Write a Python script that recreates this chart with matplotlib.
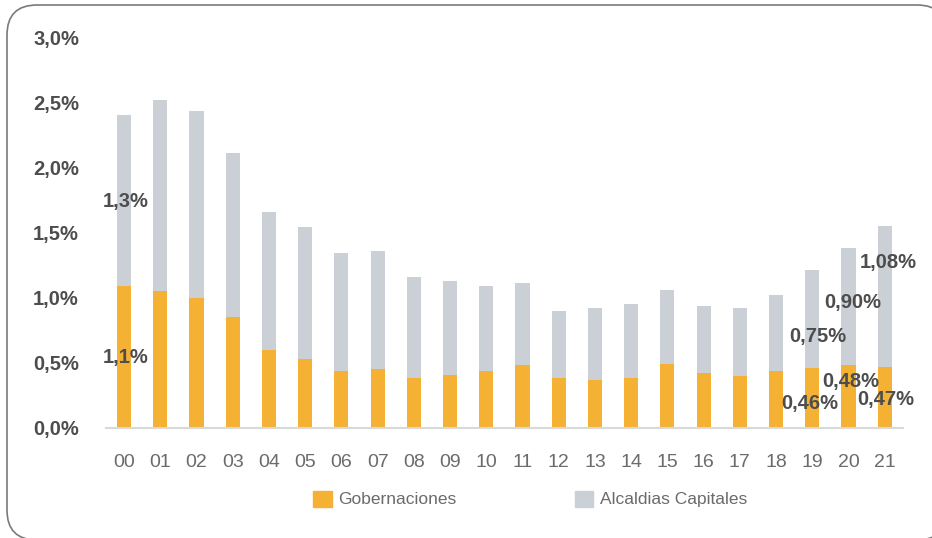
import matplotlib
matplotlib.use("Agg")
from matplotlib import pyplot as plt
from matplotlib.patches import FancyBboxPatch, Patch, Polygon
from matplotlib.ticker import FuncFormatter

plt.rcParams["font.family"] = ["Liberation Sans", "DejaVu Sans"]

YEARS = ["00", "01", "02", "03", "04", "05", "06", "07", "08", "09", "10",
         "11", "12", "13", "14", "15", "16", "17", "18", "19", "20", "21"]
GOBERNACIONES = [1.09, 1.05, 1.00, 0.85, 0.60, 0.53, 0.44, 0.45, 0.38, 0.41, 0.44,
                 0.48, 0.38, 0.37, 0.38, 0.49, 0.42, 0.40, 0.44, 0.46, 0.48, 0.47]
ALCALDIAS = [1.31, 1.47, 1.43, 1.26, 1.06, 1.01, 0.90, 0.91, 0.78, 0.72, 0.65,
             0.63, 0.52, 0.55, 0.57, 0.57, 0.52, 0.52, 0.58, 0.75, 0.90, 1.08]
Y_TICKS = [0.0, 0.5, 1.0, 1.5, 2.0, 2.5, 3.0]

ORANGE = "#f5b133"
GREY = "#cbcfd6"
LABEL = "#4d4d4d"
LIGHT = "#6b6b6b"


def pct(v, decimals):
    return f"{v:.{decimals}f}%".replace(".", ",")


fig = plt.figure(figsize=(9.32, 5.38), dpi=100)

# full-size overlay in pixel units for the rounded frame; the box runs past
# the right and bottom edges, so flatten its curves into plain segments
bg = fig.add_axes([0, 0, 1, 1])
bg.set_xlim(0, 932)
bg.set_ylim(538, 0)
bg.axis("off")
box = FancyBboxPatch((7, 5), 940, 535, boxstyle="round,pad=0,rounding_size=30")
outline = box.get_path().to_polygons(closed_only=False)[0]
bg.add_patch(Polygon(outline, closed=True, fill=False, edgecolor="#7a7a7a",
                     linewidth=1.2))

ax = fig.add_axes([0.1137, 0.2045, 0.855, 0.7265])
ax.patch.set_alpha(0)

x = list(range(len(YEARS)))
ax.bar(x, GOBERNACIONES, width=0.39, color=ORANGE)
ax.bar(x, ALCALDIAS, width=0.39, bottom=GOBERNACIONES, color=GREY)

ax.set_xlim(-0.5, 21.5)
ax.set_ylim(0, 3.0)
ax.set_yticks(Y_TICKS)
ax.yaxis.set_major_formatter(FuncFormatter(lambda v, _: pct(v, 1)))
ax.set_xticks(x)
ax.set_xticklabels(YEARS)
ax.tick_params(axis="y", length=0, pad=19.5, labelsize=14.5, labelcolor=LABEL)
ax.tick_params(axis="x", length=0, pad=19, labelsize=14, labelcolor=LIGHT)
for lbl in ax.get_yticklabels():
    lbl.set_fontweight("bold")

for side in ["top", "right", "left"]:
    ax.spines[side].set_visible(False)
ax.spines["bottom"].set_color("#d9d9d9")
ax.spines["bottom"].set_linewidth(1.5)


def put(xpos, ypos, txt):
    ax.text(xpos, ypos, txt, ha="center", va="center", fontsize=14.5,
            fontweight="bold", color=LABEL)


# value labels for the first and the last three years
put(0.05, 1.74, pct(ALCALDIAS[0], 1))
put(0.05, 0.54, pct(GOBERNACIONES[0], 1))
put(19.15, 0.70, pct(ALCALDIAS[19], 2))
put(20.11, 0.96, pct(ALCALDIAS[20], 2))
put(21.11, 1.27, pct(ALCALDIAS[21], 2))
put(18.93, 0.19, pct(GOBERNACIONES[19], 2))
put(20.06, 0.36, pct(GOBERNACIONES[20], 2))
put(21.02, 0.22, pct(GOBERNACIONES[21], 2))

handles = [Patch(color=ORANGE, label="Gobernaciones"),
           Patch(color=GREY, label="Alcaldias Capitales")]
leg = fig.legend(handles=handles, loc="center", bbox_to_anchor=(0.569, 0.0725),
                 ncol=2, frameon=False, fontsize=12.5, handlelength=1.05,
                 handleheight=1.05, handletextpad=0.4, columnspacing=6.8)
for t in leg.get_texts():
    t.set_color(LIGHT)

fig.savefig("out.png", dpi=100)
